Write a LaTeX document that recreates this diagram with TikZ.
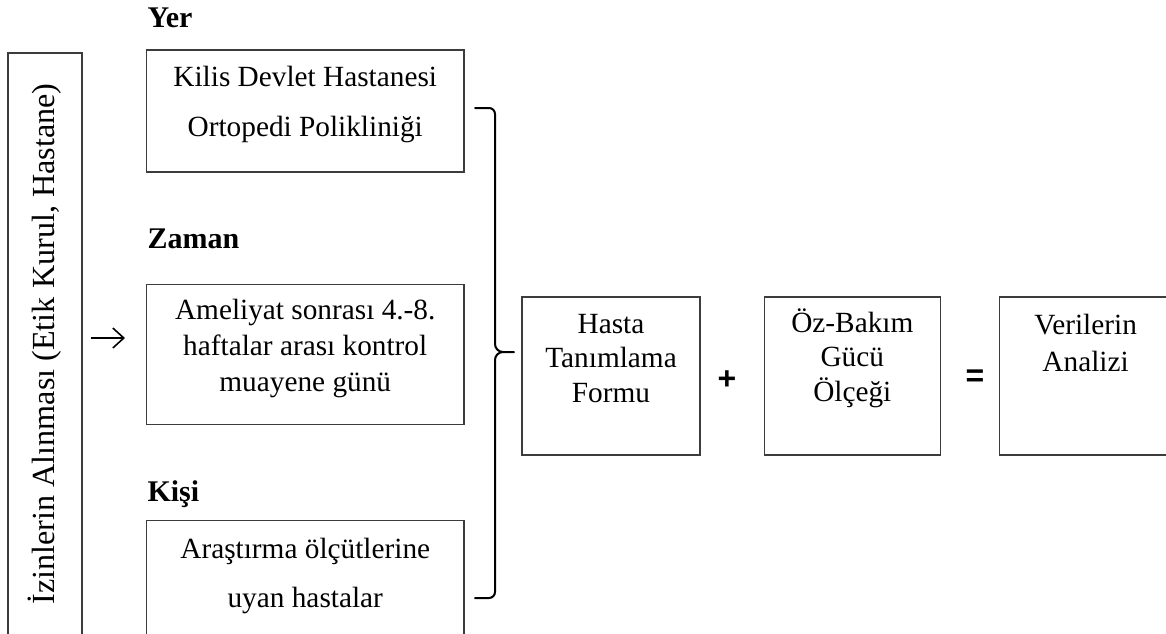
\documentclass[tikz,border=0pt]{standalone}
\usepackage{fontspec}
\setmainfont{Liberation Serif}
\newfontfamily\isaretfont{Liberation Sans}
\usetikzlibrary{positioning}
\usetikzlibrary{arrows.meta}
\definecolor{kutuCizgiRengi}{RGB}{60,60,60}
\newcommand{\metin}{\fontsize{29.3}{34.5}\selectfont}
\tikzset{
	kutu/.style = {
		draw = kutuCizgiRengi, line width=1.3pt, inner sep=0pt
	},
	kutuYazisi/.style = {
		align=center, font=\metin, anchor=base, inner sep=0pt
	},
	baslik/.style = {
		font=\fontsize{30}{36}\selectfont\bfseries, anchor=base west, inner sep=0pt
	},
	isaret/.style = {
		font=\isaretfont\fontsize{32}{36}\selectfont\bfseries, inner sep=0pt
	},
	parantez/.style = {
		line width=2pt, line cap=round
	}
}

\begin{document}
\begin{tikzpicture}[x=1pt, y=1pt, >={Straight Barb[length=11pt, width=20pt]}]
	\clip (0,0) rectangle (1166,-633);
	\fill [white] (0,0) rectangle (1166,-633);

	% sol kutu
	\node [kutu, minimum width=74pt, minimum height=600pt] (izin) at (45,-353) {};
	\node [font=\fontsize{32.2}{40}\selectfont, rotate=90, inner sep=0pt] (izinYazi) at (45,-344) {İzinlerin Alınması (Etik Kurul, Hastane)};

	% yer, zaman, kisi
	\node [kutu, minimum width=317.5pt, minimum height=122pt] (yerKutu) at (305.25,-111) {};
	\node [kutu, minimum width=317.5pt, minimum height=140pt, below=111pt of yerKutu] (zamanKutu) {};
	\node [kutu, minimum width=317.5pt, minimum height=150pt, below=95pt of zamanKutu] (kisiKutu) {};

	\node [baslik] (yerBaslik) at ([xshift=1.5pt, yshift=22pt]yerKutu.north west) {Yer};
	\node [baslik] (zamanBaslik) at ([xshift=1.5pt, yshift=35pt]zamanKutu.north west) {Zaman};
	\node [baslik] (kisiBaslik) at ([xshift=1.5pt, yshift=18pt]kisiKutu.north west) {Kişi};

	% base = son satirin tabani
	\node [kutuYazisi] (yerYazi) at ([yshift=-87pt]yerKutu.north) {Kilis Devlet Hastanesi\\[15.5pt]Ortopedi Polikliniği};
	\node [kutuYazisi] (zamanYazi) at ([yshift=-108pt]zamanKutu.north) {Ameliyat sonrası 4.-8.\\[1.5pt]haftalar arası kontrol\\[1.5pt]muayene günü};
	\node [kutuYazisi] (kisiYazi) at ([yshift=-88pt]kisiKutu.north) {Araştırma ölçütlerine\\[14.5pt]uyan hastalar};

	% sag taraf
	\node [kutu, minimum width=178pt, minimum height=158pt] (hastaKutu) at (611,-376) {};
	\node [kutu, minimum width=176pt, minimum height=158pt, right=63pt of hastaKutu] (ozKutu) {};
	\node [kutu, minimum width=172pt, minimum height=158pt, right=58pt of ozKutu] (verilerKutu) {};

	\node [kutuYazisi] (hastaYazi) at ([yshift=-106pt]hastaKutu.north) {Hasta\\Tanımlama\\Formu};
	\node [kutuYazisi] (ozYazi) at ([yshift=-105pt]ozKutu.north) {Öz-Bakım\\Gücü\\Ölçeği};
	\node [kutuYazisi] (verilerYazi) at ([yshift=-75pt]verilerKutu.north) {Verilerin\\[2pt]Analizi};

	\node [isaret] (arti) at (727,-380) {+};
	\node [isaret] (esit) at (975,-378) {=};

	% ok
	\coordinate (okBas) at (91,-338);
	\coordinate (okSon) at (125,-338);
	\draw [->, line width=1.6pt] (okBas) -- (okSon);

	% parantez
	\coordinate (parantezUst) at (475,-108);
	\coordinate (parantezUc) at (514,-352);
	\coordinate (parantezAlt) at (475,-598);
	\draw [parantez] (parantezUst) -- (489,-108) to[out=0, in=90] (495,-114) -- (495,-344) to[out=-90, in=180] (503,-352) -- (parantezUc);
	\draw [parantez] (503,-352) to[out=180, in=90] (495,-360) -- (495,-592) to[out=-90, in=0] (489,-598) -- (parantezAlt);
\end{tikzpicture}
\end{document}
